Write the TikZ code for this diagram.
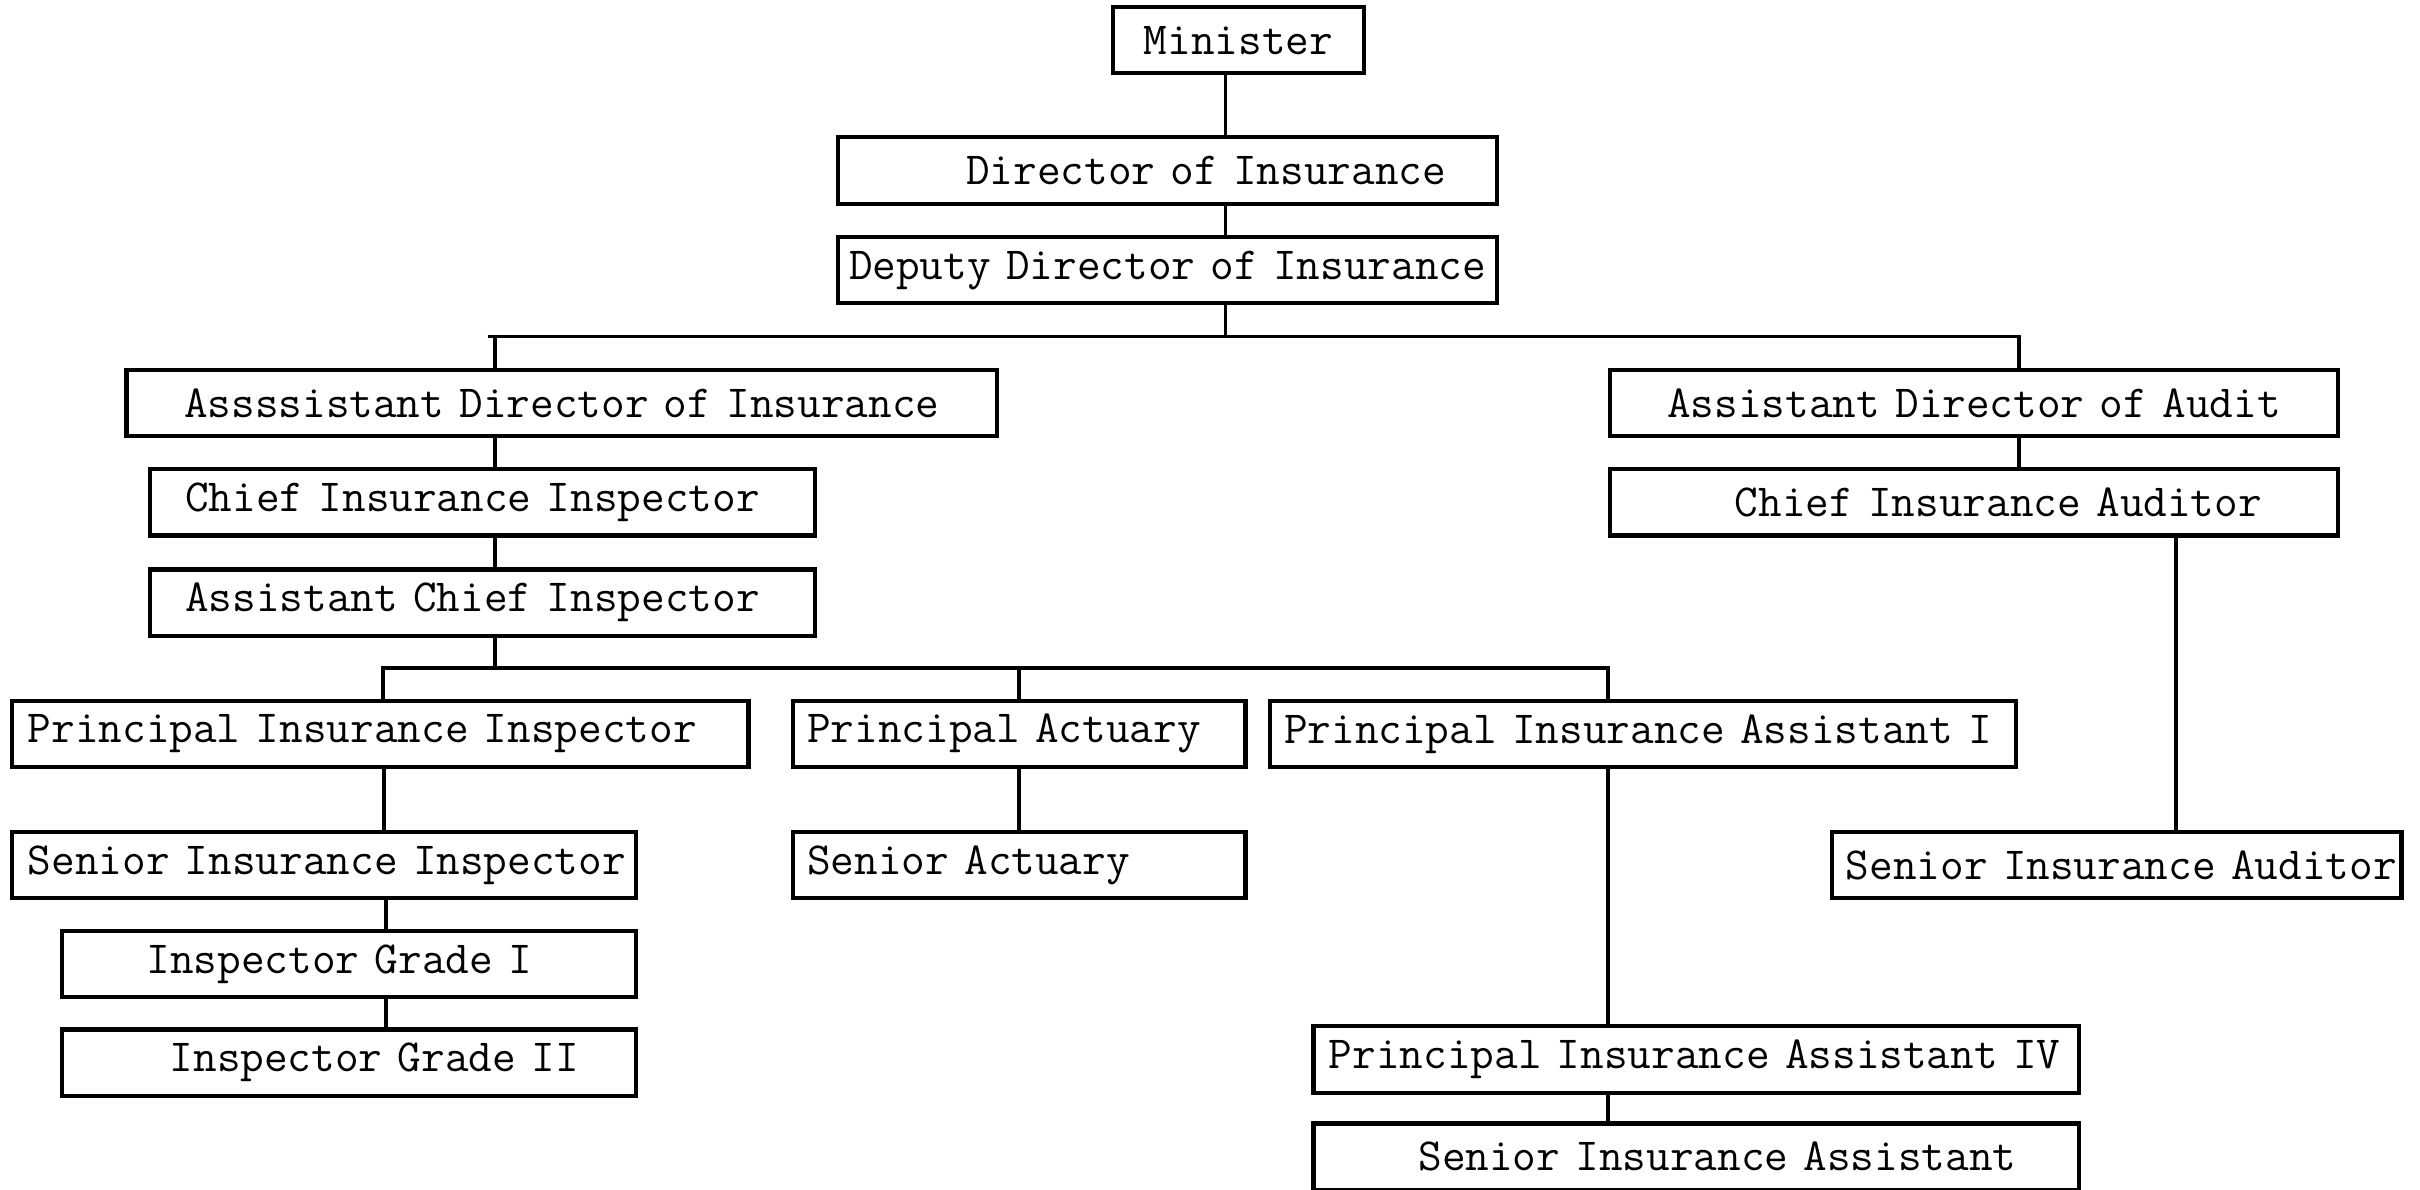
\documentclass[tikz,border=0pt]{standalone}
\usepackage{fontspec}
\newcommand\postfont{\ttfamily\fontsize{11.9}{14}\selectfont}
\begin{document}
\begin{tikzpicture}[
    x=0.4pt, y=-0.4pt,
    post/.style={draw, line width=1.1pt, fill=white, inner xsep=0pt,
        inner ysep=0pt, minimum height=17.2pt, align=left, font=\postfont},
    link/.style={line width=1pt}]
    \useasboundingbox (0,0) rectangle (1568,771);

    % Direccion
    \node[post, text width=65.2pt, align=center] (min) at (802.5,26) {Minister};
    \node[post, text width=170.8pt] (dir) at (756.5,110.5)
        {\hspace*{33.2pt}Director of Insurance};
    \node[post, text width=170.8pt, align=center] (dep) at (756.5,175)
        {Deputy Director of Insurance};

    % Rama de inspeccion
    \node[post, text width=225.6pt, align=center] (adi) at (364,261)
        {Assssistant Director of Insurance};
    \node[post, text width=172.4pt] (cii) at (312.5,325.5)
        {\hspace*{9.2pt}Chief Insurance Inspector};
    \node[post, text width=172.4pt] (aci) at (312.5,390.5)
        {\hspace*{9.2pt}Assistant Chief Inspector};
    \node[post, text width=190.8pt] (pii) at (246.5,475.5)
        {\hspace*{4pt}Principal Insurance Inspector};
    \node[post, text width=117.2pt] (pa) at (660.5,475.5)
        {\hspace*{3.6pt}Principal Actuary};
    \node[post, text width=193.2pt] (pia1) at (1064.5,475.5)
        {\hspace*{3.6pt}Principal Insurance Assistant I};
    \node[post, text width=161.6pt] (sii) at (210,560.5)
        {\hspace*{4pt}Senior Insurance Inspector};
    \node[post, text width=117.2pt] (sa) at (660.5,560.5)
        {\hspace*{3.6pt}Senior Actuary};
    \node[post, text width=148.8pt] (ig1) at (226,624.5)
        {\hspace*{22pt}Inspector Grade I};
    \node[post, text width=148.8pt] (ig2) at (226,688.5)
        {\hspace*{28pt}Inspector Grade II};
    \node[post, text width=198.4pt] (pia4) at (1099,686.5)
        {\hspace*{4pt}Principal Insurance Assistant IV};
    \node[post, text width=198.4pt] (sias) at (1099,749.5)
        {\hspace*{27.2pt}Senior Insurance Assistant};

    % Rama de auditoria
    \node[post, text width=188.8pt, align=center] (ada) at (1279,261)
        {Assistant Director of Audit};
    \node[post, text width=188.8pt] (cia) at (1279,325.5)
        {\hspace*{32.4pt}Chief Insurance Auditor};
    \node[post, text width=147.6pt] (siau) at (1371.5,560.5)
        {\hspace*{3.6pt}Senior Insurance Auditor};

    % Puntos de las lineas
    \coordinate (t1) at (794,218);
    \coordinate (b1a) at (316,218);
    \coordinate (b1l) at (321,218);
    \coordinate (b1r) at (1308,218);
    \coordinate (b2) at (321,433);
    \coordinate (b2l) at (248,433);
    \coordinate (b2r) at (1042,433);
    \coordinate (v1) at (249,0);
    \coordinate (v2) at (250,0);
    \coordinate (v3) at (1410,0);

    \draw[link] (min.south -| t1) -- (dir.north -| t1);
    \draw[link] (dir.south -| t1) -- (dep.north -| t1);
    \draw[link] (dep.south -| t1) -- (t1);
    \draw[link] (b1a) -- (b1r) -- (ada.north -| b1r);
    \draw[link] (b1l) -- (adi.north -| b1l);
    \draw[link] (adi.south -| b1l) -- (cii.north -| b1l);
    \draw[link] (cii.south -| b1l) -- (aci.north -| b1l);
    \draw[link] (aci.south -| b2) -- (b2);
    \draw[link] (pii.north -| b2l) -- (b2l) -- (b2r) -- (pia1.north -| b2r);
    \draw[link] (pa.north) -- (pa.north |- b2l);
    \draw[link] (pii.south -| v1) -- (sii.north -| v1);
    \draw[link] (sii.south -| v2) -- (ig1.north -| v2);
    \draw[link] (ig1.south -| v2) -- (ig2.north -| v2);
    \draw[link] (pa.south) -- (sa.north);
    \draw[link] (pia1.south -| b2r) -- (pia4.north -| b2r);
    \draw[link] (pia4.south -| b2r) -- (sias.north -| b2r);
    \draw[link] (ada.south -| b1r) -- (cia.north -| b1r);
    \draw[link] (cia.south -| v3) -- (siau.north -| v3);
\end{tikzpicture}
\end{document}
